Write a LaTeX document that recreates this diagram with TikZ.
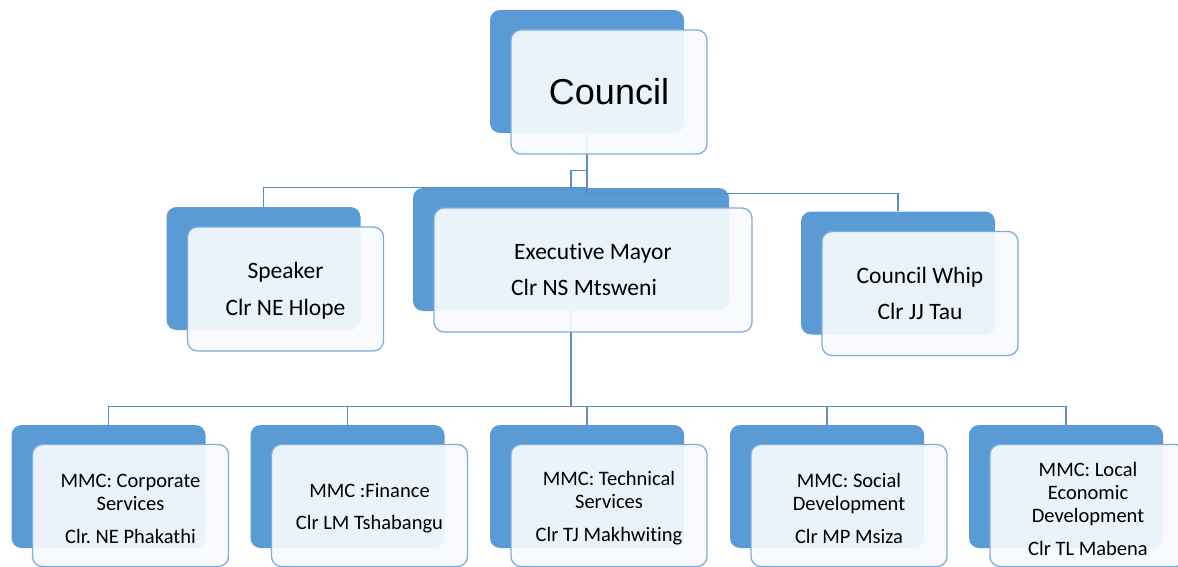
\documentclass[tikz,border=0pt]{standalone}
\usepackage{fontspec}
\setmainfont{Carlito}[Ligatures=NoCommon]
\newfontfamily\arialfont{Liberation Sans}
\definecolor{boxblue}{HTML}{5B9BD5}
\definecolor{boxedge}{HTML}{7EADDD}
\definecolor{boxfill}{HTML}{F7FAFD}
\definecolor{connblue}{HTML}{5B8CC6}
\frenchspacing
\begin{document}
\begin{tikzpicture}[x=1pt,y=-1pt,
  backbox/.style={rectangle, rounded corners=10pt, fill=boxblue, draw=none, inner sep=0pt, minimum width=194pt, minimum height=123pt},
  frontbox/.style={rectangle, rounded corners=10pt, fill=boxfill, fill opacity=0.93, draw=boxedge, line width=1.3pt, inner sep=0pt, minimum width=196pt, minimum height=124pt},
  label text/.style={align=center, text=black, inner sep=0pt},
  toptext/.style={label text, font=\fontsize{23.5}{28}\selectfont},
  bottext/.style={label text, font=\fontsize{20.5}{23}\selectfont},
  conn/.style={draw=connblue, line width=1.3pt}
]
\useasboundingbox (0,0) rectangle (1178,567);
\clip (0,0) rectangle (1178,567);

% back (blue) boxes
\node[backbox] (councilB) at (587,71.5) {};
\node[backbox] (speakerB) at (263.5,268.5) {};
\node[backbox, minimum width=316pt] (execB) at (571,249.5) {};
\node[backbox] (whipB) at (898,273) {};
\node[backbox] (corpB) at (108.5,486.5) {};
\node[backbox] (finB) at (347.5,486.5) {};
\node[backbox] (techB) at (587,486.5) {};
\node[backbox] (socB) at (827,486.5) {};
\node[backbox] (ledB) at (1066,486.5) {};

% connectors
\draw[conn] (councilB.south) -- ++(0,37) -| (execB.north);
\draw[conn] (councilB.south) -- ++(0,54) -| (speakerB.north);
\draw[conn] (councilB.south) -- ++(0,60) -| (whipB.north);
\draw[conn] (execB.south) -- ++(0,95) -| (corpB.north);
\draw[conn] (execB.south) -- ++(0,95) -| (finB.north);
\draw[conn] (execB.south) -- ++(0,95) -| (techB.north);
\draw[conn] (execB.south) -- ++(0,95) -| (socB.north);
\draw[conn] (execB.south) -- ++(0,95) -| (ledB.north);

% front boxes
\node[frontbox] (council) at (609,92) {};
\node[frontbox] (speaker) at (285.5,289) {};
\node[frontbox, minimum width=318pt] (exec) at (593,270) {};
\node[frontbox] (whip) at (920,293.5) {};
\node[frontbox, minimum height=122pt] (corp) at (130.5,505.5) {};
\node[frontbox, minimum height=122pt] (fin) at (369.5,505.5) {};
\node[frontbox, minimum height=122pt] (tech) at (609,505.5) {};
\node[frontbox, minimum height=122pt] (soc) at (849,505.5) {};
\node[frontbox, minimum height=122pt] (led) at (1088,505.5) {};

% texts
\node[label text, font=\arialfont\fontsize{36}{40}\selectfont] (councilT) at (council.center) {Council};
\node[toptext] (speakerT) at ([yshift=-2pt]speaker.center) {Speaker\\[9pt]Clr NE Hlope};
\node[toptext] (execT) at (exec.center) {Executive Mayor\\[8pt]Clr NS Mtsweni\hspace*{18pt}};
\node[toptext] (whipT) at (whip.center) {Council Whip\\[8pt]Clr JJ Tau};
\node[bottext] (corpT) at ([yshift=-3pt]corp.center) {MMC: Corporate\\Services\\[10pt]Clr. NE Phakathi};
\node[bottext] (finT) at ([yshift=-3pt]fin.center) {MMC :Finance\\[9pt]Clr LM Tshabangu};
\node[bottext] (techT) at ([yshift=-3pt]tech.center) {MMC: Technical\\Services\\[10pt]Clr TJ Makhwiting};
\node[bottext] (socT) at ([yshift=-3pt]soc.center) {MMC: Social\\Development\\[10pt]Clr MP Msiza};
\node[bottext] (ledT) at ([yshift=-3pt]led.center) {MMC: Local\\Economic\\Development\\[10pt]Clr TL Mabena};
\end{tikzpicture}
\end{document}
